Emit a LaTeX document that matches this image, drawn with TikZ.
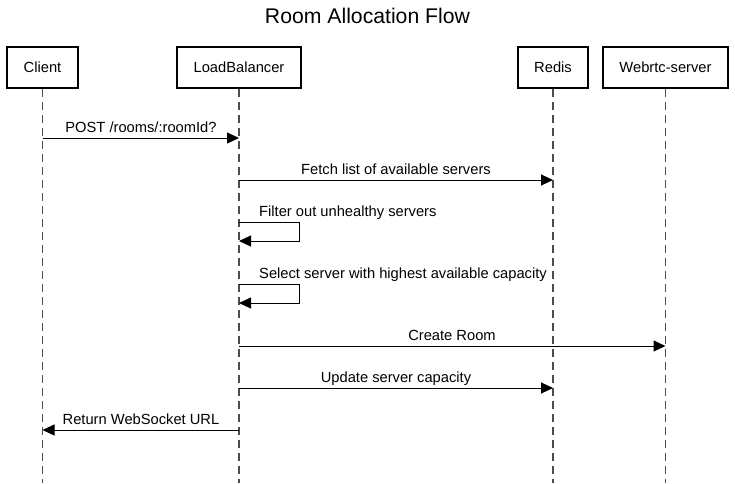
\documentclass[tikz,border=0pt]{standalone}
\usepackage{fontspec}
\setmainfont{Liberation Sans}
\usetikzlibrary{arrows.meta}
\begin{document}
\begin{tikzpicture}[x=1pt,y=-1pt,
  actor/.style={draw=black,line width=2pt,minimum height=41pt,inner sep=0pt,font=\fontsize{14.7}{17}\selectfont,fill=white},
  life/.style={draw=black!70,line width=1.4pt,dash pattern=on 8pt off 5pt},
  msg/.style={draw=black,line width=1pt,-{Triangle[length=12pt,width=11pt]}},
  lbl/.style={font=\fontsize{14.7}{17}\selectfont,inner sep=0pt,anchor=base}]
\useasboundingbox (0,0) rectangle (735,483);
\node[font=\fontsize{21.2}{25}\selectfont,anchor=base] (title) at (367.5,23) {Room Allocation Flow};
% actors
\node[actor,minimum width=71pt] (client) at (42.5,67.5) {Client};
\node[actor,minimum width=124pt] (lb) at (239,67.5) {LoadBalancer};
\node[actor,minimum width=70pt] (redis) at (553,67.5) {Redis};
\node[actor,minimum width=125pt] (web) at (665.5,67.5) {Webrtc-server};
% lifeline ends
\coordinate (clientE) at (42.5,483);
\coordinate (lbE) at (239,483);
\coordinate (redisE) at (553,483);
\coordinate (webE) at (665.5,483);
\draw[life] (client.south) -- (clientE);
\draw[life] (lb.south) -- (lbE);
\draw[life] (redis.south) -- (redisE);
\draw[life] (web.south) -- (webE);
% message points
\coordinate (m1a) at (42.5,138); \coordinate (m1b) at (239,138);
\coordinate (m2a) at (239,180); \coordinate (m2b) at (553,180);
\coordinate (m3a) at (239,222); \coordinate (m3b) at (299,222);
\coordinate (m3c) at (299,241); \coordinate (m3d) at (239,241);
\coordinate (m4a) at (239,284); \coordinate (m4b) at (299,284);
\coordinate (m4c) at (299,303); \coordinate (m4d) at (239,303);
\coordinate (m5a) at (239,346); \coordinate (m5b) at (665.5,346);
\coordinate (m6a) at (239,388); \coordinate (m6b) at (553,388);
\coordinate (m7a) at (239,430); \coordinate (m7b) at (42.5,430);
\draw[msg] (m1a) -- (m1b);
\node[lbl] (l1) at (141,132) {POST /rooms/:roomId?};
\draw[msg] (m2a) -- (m2b);
\node[lbl] (l2) at (396,174) {Fetch list of available servers};
\draw[msg] (m3a) -- (m3b) -- (m3c) -- (m3d);
\node[lbl,anchor=base west] (l3) at (259,216) {Filter out unhealthy servers};
\draw[msg] (m4a) -- (m4b) -- (m4c) -- (m4d);
\node[lbl,anchor=base west] (l4) at (259,278) {Select server with highest available capacity};
\draw[msg] (m5a) -- (m5b);
\node[lbl] (l5) at (452,340) {Create Room};
\draw[msg] (m6a) -- (m6b);
\node[lbl] (l6) at (396,382) {Update server capacity};
\draw[msg] (m7a) -- (m7b);
\node[lbl] (l7) at (141,424) {Return WebSocket URL};
\end{tikzpicture}
\end{document}
